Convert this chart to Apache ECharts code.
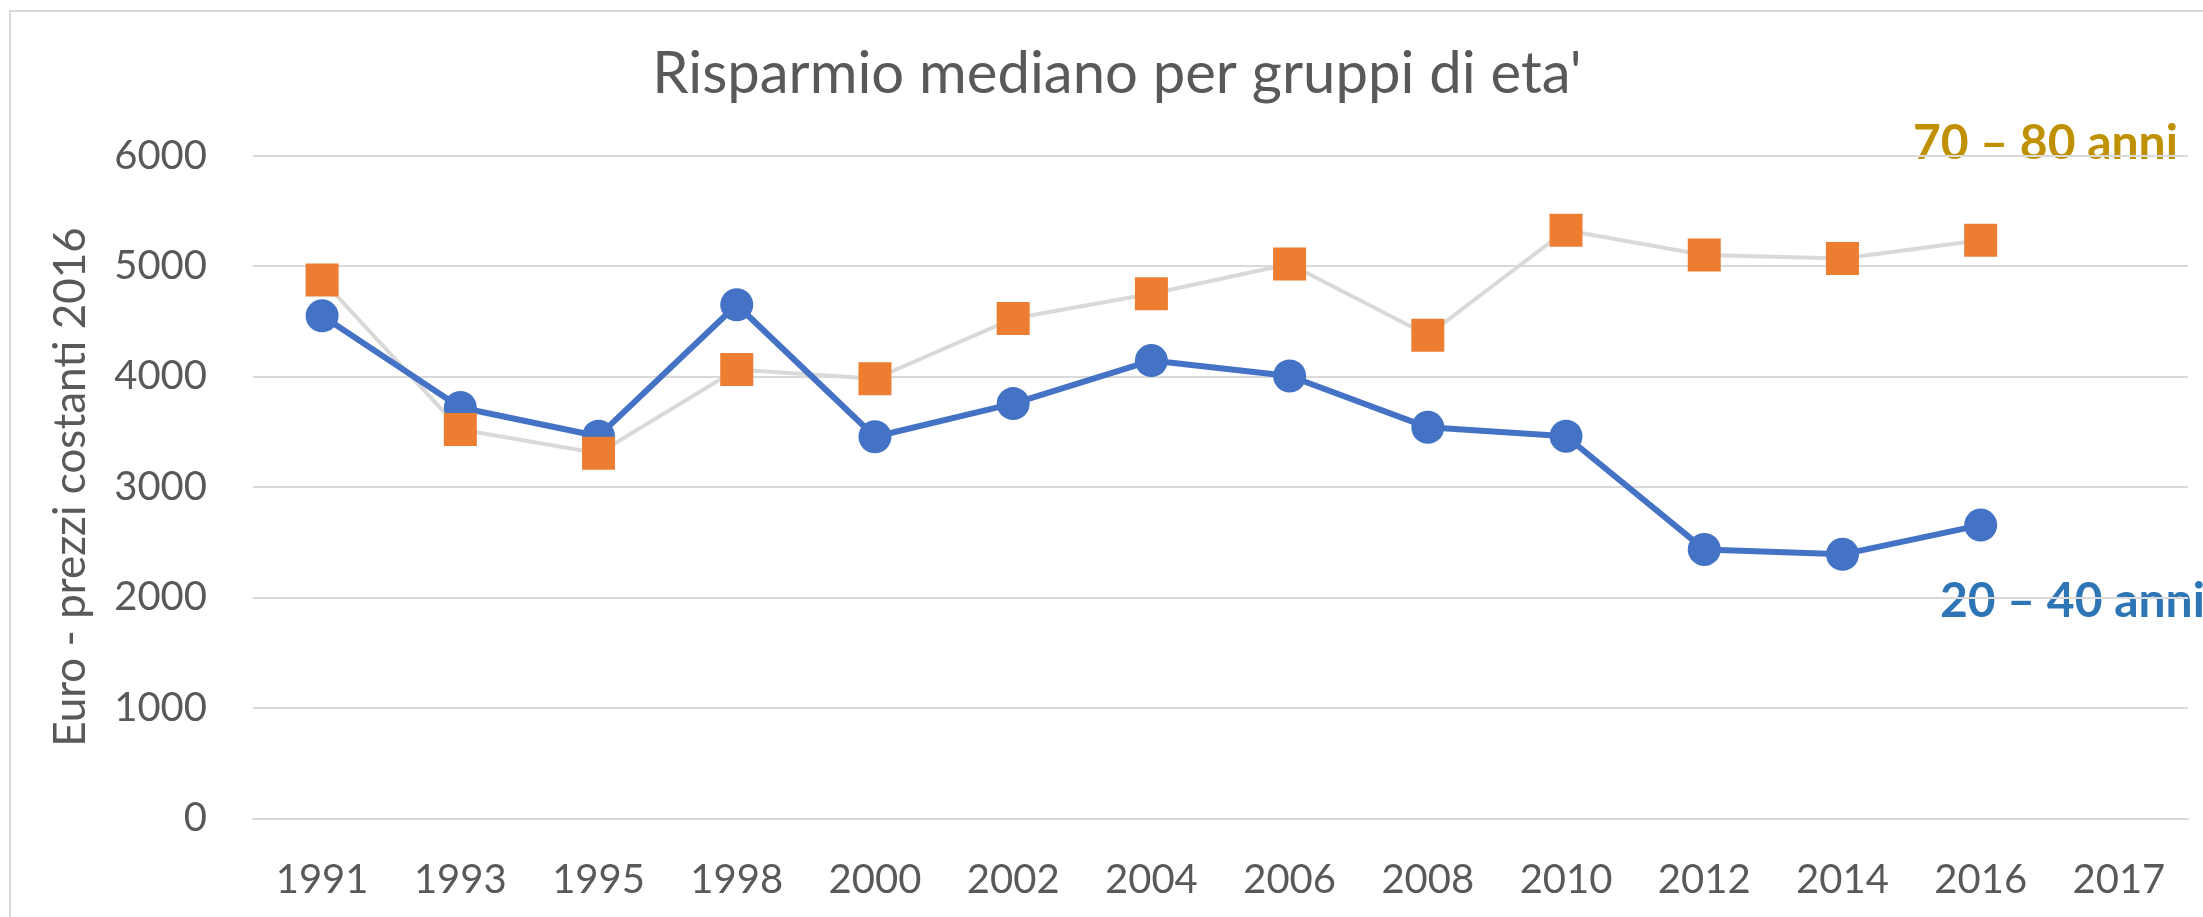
<!DOCTYPE html>
<html>
<head>
<meta charset="utf-8">
<title>Risparmio mediano per gruppi di eta'</title>
<script src="https://cdn.jsdelivr.net/npm/echarts@6/dist/echarts.min.js"></script>
<style>
  html, body { margin: 0; padding: 0; background: #fff; }
  #chart { width: 2203px; height: 917px; }
</style>
</head>
<body>
<div id="chart"></div>
<script>
// anni dell'indagine
const years = ['1991', '1993', '1995', '1998', '2000', '2002', '2004', '2006', '2008', '2010', '2012', '2014', '2016', '2017'];
// risparmio mediano, euro a prezzi costanti 2016
const giovani = [4550, 3720, 3460, 4650, 3455, 3755, 4145, 4005, 3540, 3460, 2435, 2390, 2655, null];   // 20 - 40 anni
const anziani = [4875, 3520, 3305, 4065, 3980, 4525, 4750, 5020, 4375, 5325, 5100, 5070, 5235, null];   // 70 - 80 anni
const yTicks = [0, 1000, 2000, 3000, 4000, 5000, 6000];

const font = 'Lato, "Open Sans", sans-serif';
const grey = '#595959';

const chart = echarts.init(document.getElementById('chart'));

chart.setOption({
  animation: false,
  backgroundColor: '#fff',
  textStyle: { fontFamily: font },
  title: {
    text: "Risparmio mediano per gruppi di eta'",
    left: 1112,
    top: 40,
    textAlign: 'center',
    textStyle: { fontSize: 58, fontWeight: 'normal', color: grey, fontFamily: font }
  },
  grid: { left: 253, right: 15, top: 155.7, bottom: 98.7 },
  xAxis: {
    type: 'category',
    data: years,
    boundaryGap: true,
    axisLine: { show: true, lineStyle: { color: '#d9d9d9', width: 2 } },
    axisTick: { show: false },
    axisLabel: { fontSize: 40, color: grey, margin: 42, interval: 0 }
  },
  yAxis: {
    type: 'value',
    min: yTicks[0],
    max: yTicks[yTicks.length - 1],
    interval: 1000,
    name: 'Euro - prezzi costanti 2016',
    nameLocation: 'middle',
    nameGap: 160,
    nameTextStyle: { fontSize: 44, color: grey },
    axisLine: { show: false },
    axisTick: { show: false },
    splitLine: { lineStyle: { color: '#d9d9d9', width: 2 } },
    axisLabel: { fontSize: 40, color: grey, margin: 46, formatter: v => String(v) }
  },
  series: [
    {
      // linea grigia degli anziani, sotto tutto
      name: '70 – 80 anni linea',
      type: 'line',
      data: anziani,
      showSymbol: false,
      lineStyle: { color: '#d9d9d9', width: 4 },
      z: 1
    },
    {
      name: '20 – 40 anni',
      type: 'line',
      data: giovani,
      symbol: 'circle',
      symbolSize: 33,
      itemStyle: { color: '#4472c4' },
      lineStyle: { color: '#4472c4', width: 6 },
      z: 2
    },
    {
      name: '70 – 80 anni',
      type: 'line',
      data: anziani,
      symbol: 'rect',
      symbolSize: 33,
      itemStyle: { color: '#ed7d31' },
      lineStyle: { width: 0, opacity: 0 },
      z: 3
    }
  ],
  graphic: [
    {
      type: 'rect',
      shape: { x: 10, y: 11, width: 2300, height: 1000 },
      style: { fill: 'none', stroke: '#d9d9d9', lineWidth: 2 },
      silent: true,
      z: -1
    },
    {
      type: 'text',
      left: 1913,
      top: 120,
      style: { text: '70 – 80 anni', fill: '#bf9000', font: 'bold 48px ' + font }
    },
    {
      type: 'text',
      left: 1940,
      top: 578,
      style: { text: '20 – 40 anni', fill: '#2e75b6', font: 'bold 48px ' + font }
    }
  ]
});
</script>
</body>
</html>
